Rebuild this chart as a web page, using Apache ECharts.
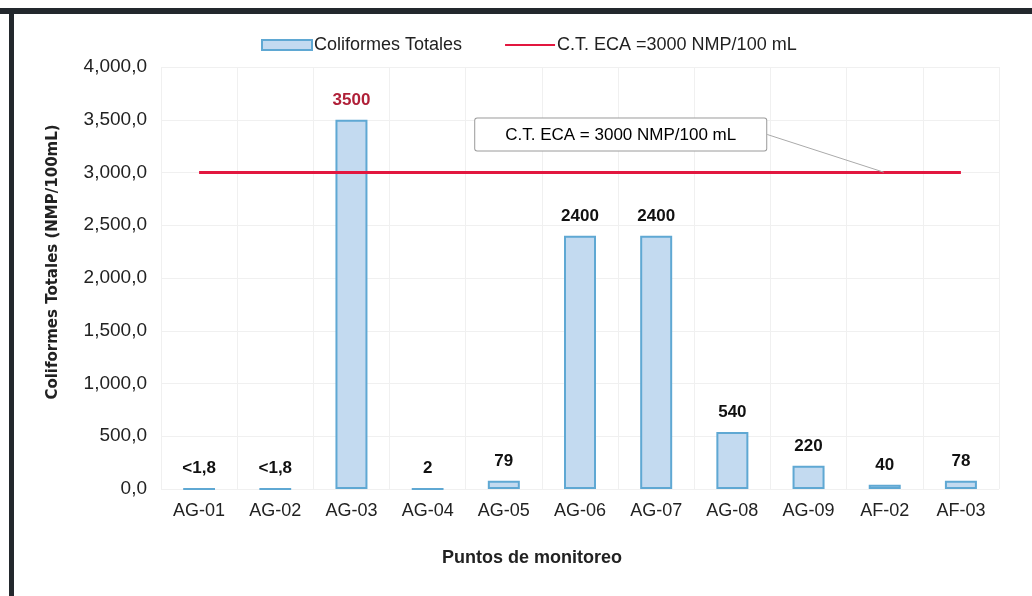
<!DOCTYPE html>
<html lang="es">
<head>
    <meta charset="UTF-8">
    <title>Coliformes Totales</title>
    <script src="https://cdn.jsdelivr.net/npm/echarts@6/dist/echarts.min.js"></script>
    <style>
        html, body {
            margin: 0;
            padding: 0;
            background: #fff;
        }
        #chart {
            width: 1032px;
            height: 596px;
        }
    </style>
</head>
<body>
<div id="chart"></div>
<script>
    // puntos de monitoreo
    var categories = ['AG-01', 'AG-02', 'AG-03', 'AG-04', 'AG-05', 'AG-06', 'AG-07', 'AG-08', 'AG-09', 'AF-02', 'AF-03'];
    // coliformes totales (NMP/100mL)
    var values = [1.8, 1.8, 3500, 2, 79, 2400, 2400, 540, 220, 40, 78];
    var valueLabels = ['<1,8', '<1,8', '3500', '2', '79', '2400', '2400', '540', '220', '40', '78'];
    // limite ECA
    var ecaLimit = [3000, 3000, 3000, 3000, 3000, 3000, 3000, 3000, 3000, 3000, 3000];
    var calloutPoint = ['AF-02', 3000];
    var yTicks = [0, 500, 1000, 1500, 2000, 2500, 3000, 3500, 4000];

    function fmt(n) {
        var s = String(Math.round(n));
        s = s.replace(/\B(?=(\d{3})+(?!\d))/g, ',');
        return s + ',0';
    }

    var chart = echarts.init(document.getElementById('chart'));

    var option = {
        animation: false,
        textStyle: {fontFamily: 'Liberation Sans, Arial, sans-serif'},
        graphic: [
            {type: 'rect', shape: {x: 0, y: 8, width: 1032, height: 6}, style: {fill: '#23282d'}},
            {type: 'rect', shape: {x: 9, y: 8, width: 5, height: 588}, style: {fill: '#23282d'}}
        ],
        legend: {
            left: 256,
            top: 31,
            itemWidth: 50,
            itemHeight: 10,
            itemGap: 42,
            textStyle: {
                fontFamily: 'Liberation Sans Narrow, Liberation Sans, Arial, sans-serif',
                fontSize: 18,
                color: '#222',
                padding: [0, 0, 0, -3]
            },
            data: [
                {name: 'Coliformes Totales', icon: 'rect'},
                {name: 'C.T. ECA =3000 NMP/100 mL', itemStyle: {opacity: 0}}
            ]
        },
        grid: {
            left: 161,
            right: 33,
            top: 67,
            bottom: 107
        },
        xAxis: {
            type: 'category',
            data: categories,
            name: 'Puntos de monitoreo',
            nameLocation: 'middle',
            nameGap: 60,
            nameTextStyle: {fontSize: 18, fontWeight: 'bold', color: '#222', padding: [0, 96, 0, 0]},
            axisLine: {show: false},
            axisTick: {show: false},
            axisLabel: {fontSize: 18, color: '#222', margin: 13},
            splitLine: {show: true, lineStyle: {color: '#f0f0f0'}}
        },
        yAxis: {
            type: 'value',
            min: yTicks[0],
            max: yTicks[yTicks.length - 1],
            interval: 500,
            name: 'Coliformes Totales (NMP/100mL)',
            nameLocation: 'middle',
            nameGap: 100,
            nameTextStyle: {
                fontFamily: 'DejaVu Sans, sans-serif',
                fontSize: 15,
                fontWeight: 'bold',
                color: '#222',
                padding: [0, 0, 0, 32]
            },
            axisLine: {show: false},
            axisTick: {show: false},
            axisLabel: {
                fontSize: 19,
                color: '#222',
                margin: 14,
                formatter: function (v) { return fmt(v); }
            },
            splitLine: {lineStyle: {color: '#f0f0f0'}}
        },
        series: [
            {
                name: 'Coliformes Totales',
                type: 'bar',
                barWidth: 32,
                data: values.map(function (v, i) {
                    // 3500 en rojo
                    if (i === 2) {
                        return {value: v, label: {color: '#b02038'}};
                    }
                    return v;
                }),
                itemStyle: {
                    color: '#c3daf0',
                    borderColor: '#5fa8d3',
                    borderWidth: 2
                },
                label: {
                    show: true,
                    position: 'top',
                    distance: 11,
                    fontSize: 17,
                    fontWeight: 'bold',
                    color: '#111',
                    formatter: function (p) {
                        return valueLabels[p.dataIndex];
                    }
                },
                z: 2
            },
            {
                name: 'C.T. ECA =3000 NMP/100 mL',
                type: 'line',
                data: ecaLimit,
                symbol: 'none',
                color: '#e2173f',
                lineStyle: {color: '#e2173f', width: 3},
                z: 3
            },
            {
                name: 'callout',
                type: 'scatter',
                data: [calloutPoint],
                symbolSize: 2,
                itemStyle: {color: 'rgba(0,0,0,0)'},
                silent: true,
                label: {
                    show: true,
                    position: 'top',
                    distance: 0,
                    formatter: 'C.T. ECA = 3000 NMP/100 mL',
                    fontSize: 17,
                    color: '#000',
                    opacity: 1,
                    backgroundColor: '#fff',
                    borderColor: '#9a9a9a',
                    borderWidth: 1,
                    borderRadius: 2,
                    padding: [8, 30, 7, 30]
                },
                labelLine: {show: true, lineStyle: {color: '#aaa', width: 1}},
                labelLayout: {dx: -264, dy: -21},
                z: 4
            }
        ]
    };

    chart.setOption(option);
</script>
</body>
</html>
